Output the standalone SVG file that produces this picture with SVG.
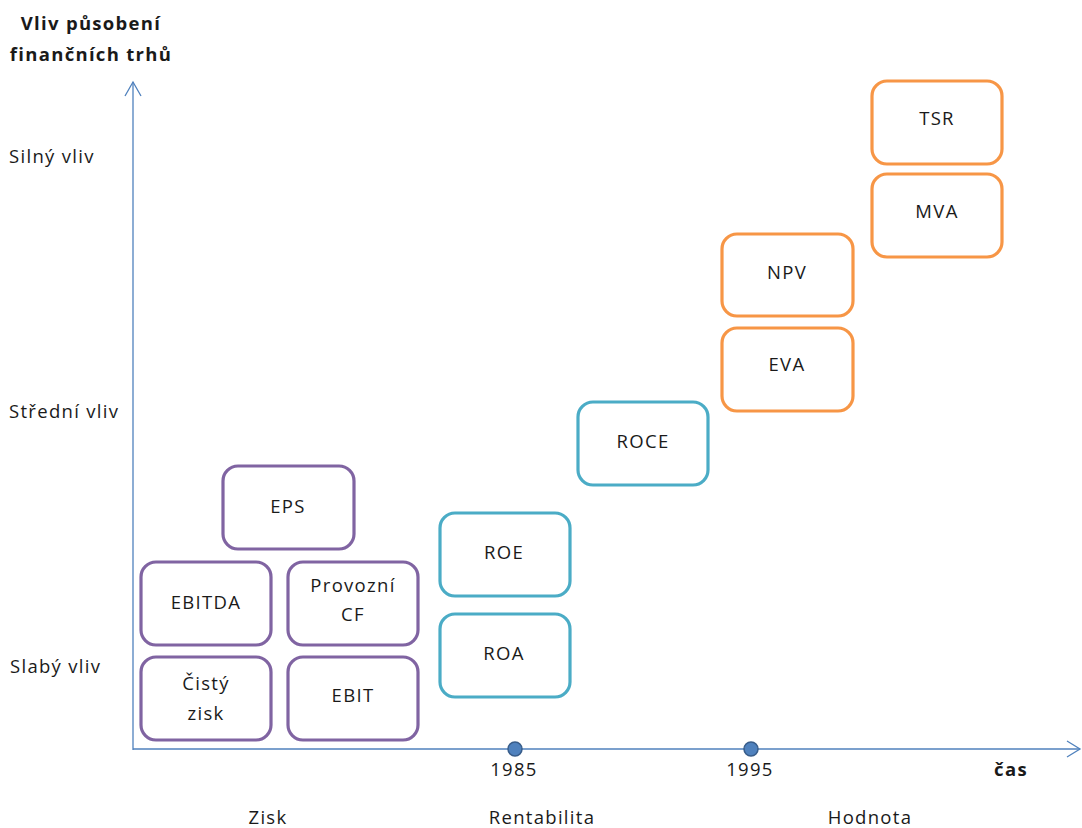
<svg xmlns="http://www.w3.org/2000/svg" width="1082" height="828" viewBox="0 0 1082 828">
<style>
text{font-family:"Open Sans","Liberation Sans",Arial,sans-serif;font-size:18.5px;letter-spacing:1.3px;fill:#1a1a1a}
.b{font-weight:bold}
.m{text-anchor:middle}
.box{fill:#fff;stroke-width:3.2}
.p{stroke:#8064A2}
.t{stroke:#4BACC6}
.o{stroke:#F79646}
.ax{stroke:#4F81BD;stroke-width:1.3;fill:none}
</style>
<rect width="1082" height="828" fill="#fff"/>
<g id="axes">
<line class="ax" x1="133" y1="750" x2="133" y2="82"/>
<polyline class="ax" points="125,96 133,82 141,96"/>
<line class="ax" x1="133" y1="749" x2="1080" y2="749"/>
<polyline class="ax" points="1067,741 1080,749 1067,757"/>
<circle cx="515" cy="749" r="7" fill="#4F81BD" stroke="#385D8A" stroke-width="1.5"/>
<circle cx="751" cy="749" r="7" fill="#4F81BD" stroke="#385D8A" stroke-width="1.5"/>
</g>
<g id="labels">
<text class="b m" x="91" y="30">Vliv působení</text>
<text class="b m" x="91" y="61">finančních trhů</text>
<text x="9" y="163">Silný vliv</text>
<text x="9" y="418">Střední vliv</text>
<text x="10" y="673">Slabý vliv</text>
<text class="m" x="514" y="776">1985</text>
<text class="m" x="750" y="776">1995</text>
<text class="b m" x="1011" y="776">čas</text>
<text class="m" x="268" y="824">Zisk</text>
<text class="m" x="542" y="824">Rentabilita</text>
<text class="m" x="870" y="824">Hodnota</text>
</g>
<g id="EPS"><rect class="box p" x="223" y="466" width="131" height="83" rx="15"/><text class="m" x="288" y="513">EPS</text></g>
<g id="EBITDA"><rect class="box p" x="141" y="562" width="130" height="83" rx="15"/><text class="m" x="206" y="609">EBITDA</text></g>
<g id="ProvozniCF"><rect class="box p" x="288" y="562" width="130" height="83" rx="15"/><text class="m" x="353" y="592">Provozní</text><text class="m" x="353" y="621">CF</text></g>
<g id="CistyZisk"><rect class="box p" x="141" y="657" width="130" height="83" rx="15"/><text class="m" x="206" y="690">Čistý</text><text class="m" x="206" y="720">zisk</text></g>
<g id="EBIT"><rect class="box p" x="288" y="657" width="130" height="83" rx="15"/><text class="m" x="353" y="702">EBIT</text></g>
<g id="ROE"><rect class="box t" x="440" y="513" width="130" height="83" rx="15"/><text class="m" x="504" y="559">ROE</text></g>
<g id="ROA"><rect class="box t" x="440" y="614" width="130" height="83" rx="15"/><text class="m" x="504" y="660">ROA</text></g>
<g id="ROCE"><rect class="box t" x="578" y="402" width="130" height="83" rx="15"/><text class="m" x="643" y="448">ROCE</text></g>
<g id="EVA"><rect class="box o" x="722" y="328" width="131" height="83" rx="15"/><text class="m" x="787" y="371">EVA</text></g>
<g id="NPV"><rect class="box o" x="722" y="234" width="131" height="82" rx="15"/><text class="m" x="787" y="279">NPV</text></g>
<g id="MVA"><rect class="box o" x="872" y="174" width="130" height="83" rx="15"/><text class="m" x="937" y="218">MVA</text></g>
<g id="TSR"><rect class="box o" x="872" y="81" width="130" height="83" rx="15"/><text class="m" x="937" y="125">TSR</text></g>
</svg>
